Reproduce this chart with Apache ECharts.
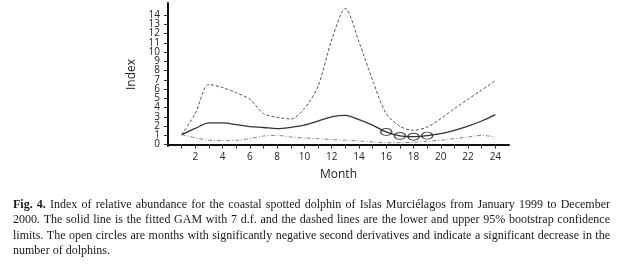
<!DOCTYPE html>
<html>
<head>
<meta charset="utf-8">
<script src="https://cdn.jsdelivr.net/npm/echarts@6/dist/echarts.min.js"></script>
<style>
  html, body { margin: 0; padding: 0; background: #fff; }
  #chart { width: 621px; height: 264px; }
</style>
</head>
<body>
<div id="chart"></div>
<script>
// month index (Jan 1999 = 1 ... Dec 2000 = 24)
var months = [1, 2, 3, 4, 5, 6, 7, 8, 9, 10, 11, 12, 13, 14, 15, 16, 17, 18, 19, 20, 21, 22, 23, 24];
// fitted GAM (solid line)
var fitted = [1.08, 1.75, 2.34, 2.34, 2.16, 1.95, 1.85, 1.73, 1.87, 2.1, 2.55, 3.0, 3.16, 2.7, 2.1, 1.37, 0.94, 0.86, 0.97, 1.19, 1.55, 2.0, 2.55, 3.24];
// upper 95% bootstrap limit
var upper = [1.08, 3.35, 6.5, 6.17, 5.6, 4.9, 3.35, 2.95, 2.77, 3.9, 6.3, 11.3, 14.7, 11.1, 6.96, 3.35, 1.98, 1.55, 1.9, 2.8, 3.9, 4.9, 5.9, 6.9];
// lower 95% bootstrap limit
var lower = [1.08, 0.75, 0.47, 0.43, 0.47, 0.65, 0.93, 1.0, 0.82, 0.72, 0.65, 0.54, 0.47, 0.4, 0.29, 0.21, 0.21, 0.25, 0.36, 0.47, 0.65, 0.82, 1.0, 0.82];
// months with significantly negative second derivatives
var circleMonths = [16, 17, 18, 19];

var yTicks = [0, 1, 2, 3, 4, 5, 6, 7, 8, 9, 10, 11, 12, 13, 14];
var xTicks = [1, 2, 3, 4, 5, 6, 7, 8, 9, 10, 11, 12, 13, 14, 15, 16, 17, 18, 19, 20, 21, 22, 23, 24];
var xLabels = [2, 4, 6, 8, 10, 12, 14, 16, 18, 20, 22, 24];

var captionLines = [
    'Fig. 4. Index of relative abundance for the coastal spotted dolphin of Islas Murciélagos from January 1999 to December',
    '2000. The solid line is the fitted GAM with 7 d.f. and the dashed lines are the lower and upper 95% bootstrap confidence',
    'limits. The open circles are months with significantly negative second derivatives and indicate a significant decrease in the',
    'number of dolphins.'
];

var yMin = -0.15, yMax = 15.3;

function pairs(ys) {
    return months.map(function (m, i) { return [m, ys[i]]; });
}

// blank end labels so echarts does not drop 0/1 and 13/14 as overlapping
var yLabelValues = [yMin].concat(yTicks, [yMax]);

// justify caption lines word by word
var capFont = '12px "Liberation Serif"';
var capFontBold = 'bold 12px "Liberation Serif"';
var measureCtx = document.createElement('canvas').getContext('2d');
function textWidth(s, font) {
    measureCtx.font = font;
    return measureCtx.measureText(s).width;
}
var capLeft = 13, capRight = 610;
var capY = [204.5, 220, 235.5, 251];
var captionGraphics = [];
captionLines.forEach(function (line, li) {
    var words = line.split(' ');
    var fonts = words.map(function (w, wi) {
        return (li === 0 && wi < 2) ? capFontBold : capFont;
    });
    var widths = words.map(function (w, wi) { return textWidth(w, fonts[wi]); });
    var total = widths.reduce(function (a, b) { return a + b; }, 0);
    var gap = textWidth(' ', capFont);
    if (li < captionLines.length - 1) {
        gap = (capRight - capLeft - total) / (words.length - 1);
    }
    var x = capLeft;
    words.forEach(function (w, wi) {
        captionGraphics.push({
            type: 'text',
            x: x,
            y: capY[li],
            style: {
                text: w,
                font: fonts[wi],
                fill: '#1a1a1a',
                verticalAlign: 'middle'
            }
        });
        x += widths[wi] + gap;
    });
});

var chartDom = document.getElementById('chart');
var myChart = echarts.init(chartDom);
var option;

option = {
    animation: false,
    backgroundColor: '#fff',
    grid: {
        left: 168,
        right: 112,
        top: 3,
        bottom: 118
    },
    xAxis: {
        type: 'value',
        min: 0,
        max: 25,
        name: 'Month',
        nameLocation: 'middle',
        nameGap: 23,
        nameTextStyle: {
            fontFamily: 'Open Sans',
            fontSize: 12,
            color: '#222'
        },
        axisLine: { lineStyle: { color: '#111', width: 2 } },
        axisTick: {
            customValues: xTicks,
            length: 4,
            lineStyle: { color: '#333', width: 1 }
        },
        axisLabel: {
            customValues: xLabels,
            margin: 6,
            fontFamily: 'Open Sans',
            fontSize: 10,
            color: '#222'
        },
        splitLine: { show: false }
    },
    yAxis: {
        type: 'value',
        min: yMin,
        max: yMax,
        name: 'Index',
        nameLocation: 'middle',
        nameGap: 27,
        nameTextStyle: {
            fontFamily: 'Open Sans',
            fontSize: 12,
            color: '#222'
        },
        axisLine: { show: true, lineStyle: { color: '#111', width: 2 } },
        axisTick: {
            show: true,
            customValues: yTicks,
            length: 4,
            lineStyle: { color: '#333', width: 1 }
        },
        axisLabel: {
            customValues: yLabelValues,
            formatter: function (v) {
                return yTicks.indexOf(v) >= 0 ? String(v) : '';
            },
            showMinLabel: true,
            showMaxLabel: true,
            margin: 8,
            fontFamily: 'Open Sans',
            fontSize: 10,
            color: '#222'
        },
        splitLine: { show: false }
    },
    series: [
        {
            name: 'upper',
            type: 'line',
            data: pairs(upper),
            smooth: 0.3,
            showSymbol: false,
            lineStyle: { color: '#555', width: 1, type: [3, 2] }
        },
        {
            name: 'lower',
            type: 'line',
            data: pairs(lower),
            smooth: 0.3,
            showSymbol: false,
            lineStyle: { color: '#888', width: 1, type: [4, 2, 1, 2] }
        },
        {
            name: 'fitted',
            type: 'line',
            data: pairs(fitted),
            smooth: 0.3,
            showSymbol: false,
            lineStyle: { color: '#333', width: 1.3 }
        },
        {
            name: 'decrease',
            type: 'scatter',
            data: circleMonths.map(function (m) { return [m, fitted[months.indexOf(m)]]; }),
            symbol: 'circle',
            symbolSize: [11, 7],
            z: 5,
            itemStyle: {
                color: 'rgba(255,255,255,0)',
                borderColor: '#222',
                borderWidth: 1.2
            }
        }
    ],
    graphic: captionGraphics
};

option && myChart.setOption(option);
window.addEventListener("resize", function () {
    myChart.resize();
});
</script>
</body>
</html>
